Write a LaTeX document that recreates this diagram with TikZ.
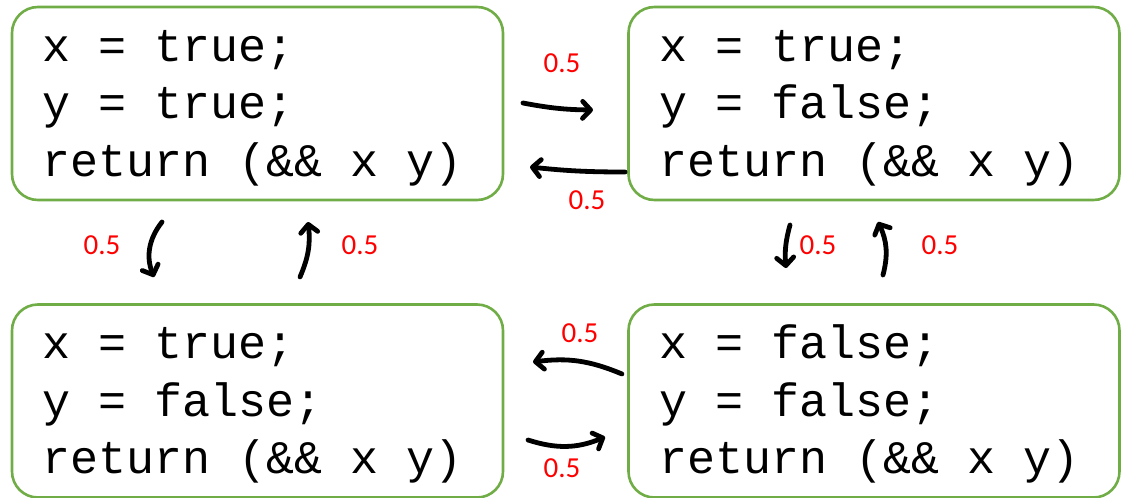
\documentclass[tikz,border=0pt]{standalone}
\usepackage{fontspec}
\newfontfamily\codefont{Liberation Mono}
\newfontfamily\probfont{Carlito}
\newcommand\msp{\hspace*{0.6em}}
\usepackage{xcolor}
\definecolor{boxgreen}{RGB}{112,173,71}
\definecolor{probred}{RGB}{255,0,0}
\usepackage{tikz}
\usetikzlibrary{arrows.meta,positioning}

\begin{document}
\begin{tikzpicture}[
  x=1pt, y=1pt,
  state/.style={rectangle, rounded corners=26pt, draw=boxgreen, line width=2.6pt,
                minimum width=491pt, minimum height=193pt, inner xsep=30.5pt,
                text width=430pt, text height=40pt, align=left,
                font=\codefont\fontsize{46.7}{57.5}\selectfont},
  prob/.style={font=\probfont\fontsize{29}{32}\selectfont, text=probred, inner sep=0pt},
  arr/.style={-{Straight Barb[length=8pt,width=17pt,round]}, line width=4.8pt,
              line cap=round, black}
]
\useasboundingbox (0,0) rectangle (1128,-498);

%% program states
\node[state] (tt) at (257.5,-103.5)
  {x\msp=\msp true;\\y\msp=\msp true;\\return\msp(\&\&\msp x\msp y)};
\node[state] (tf) at (874,-103.5)
  {x\msp=\msp true;\\y\msp=\msp false;\\return\msp(\&\&\msp x\msp y)};
\node[state] (ft) at (257.5,-401)
  {x\msp=\msp true;\\y\msp=\msp false;\\return\msp(\&\&\msp x\msp y)};
\node[state] (ff) at (874,-401)
  {x\msp=\msp false;\\y\msp=\msp false;\\return\msp(\&\&\msp x\msp y)};

%% arrow ends
\coordinate (a1s) at (523,-103); \coordinate (a1e) at (593,-110);
\coordinate (a2s) at (625,-172); \coordinate (a2e) at (530,-167);
\coordinate (a3s) at (162,-222); \coordinate (a3e) at (154,-277);
\coordinate (a4s) at (300,-277); \coordinate (a4e) at (308,-222);
\coordinate (a5s) at (790,-225); \coordinate (a5e) at (786,-268);
\coordinate (a6s) at (883,-275); \coordinate (a6e) at (878,-222);
\coordinate (a7s) at (622,-374); \coordinate (a7e) at (533,-362);
\coordinate (a8s) at (528,-440); \coordinate (a8e) at (605,-437);

\draw[arr] (a1s) to[bend right=5] (a1e);
\draw[arr] (a2s) to[bend left=3] (a2e);
\draw[arr] (a3s) to[bend right=30] (a3e);
\draw[arr] (a4s) to[bend right=15] (a4e);
\draw[arr] (a5s) to[bend right=10] (a5e);
\draw[arr] (a6s) to[bend right=20] (a6e);
\draw[arr] (a7s) to[bend right=15] (a7e);
\draw[arr] (a8s) to[bend right=20] (a8e);

%% probabilities
\node[prob] (p1) at (562,-63)  {0.5};
\node[prob] (p2) at (587,-200) {0.5};
\node[prob] (p3) at (102,-245) {0.5};
\node[prob] (p4) at (360,-245) {0.5};
\node[prob] (p5) at (818,-245) {0.5};
\node[prob] (p6) at (940,-245) {0.5};
\node[prob] (p7) at (580,-333) {0.5};
\node[prob] (p8) at (562,-468) {0.5};

\end{tikzpicture}
\end{document}
